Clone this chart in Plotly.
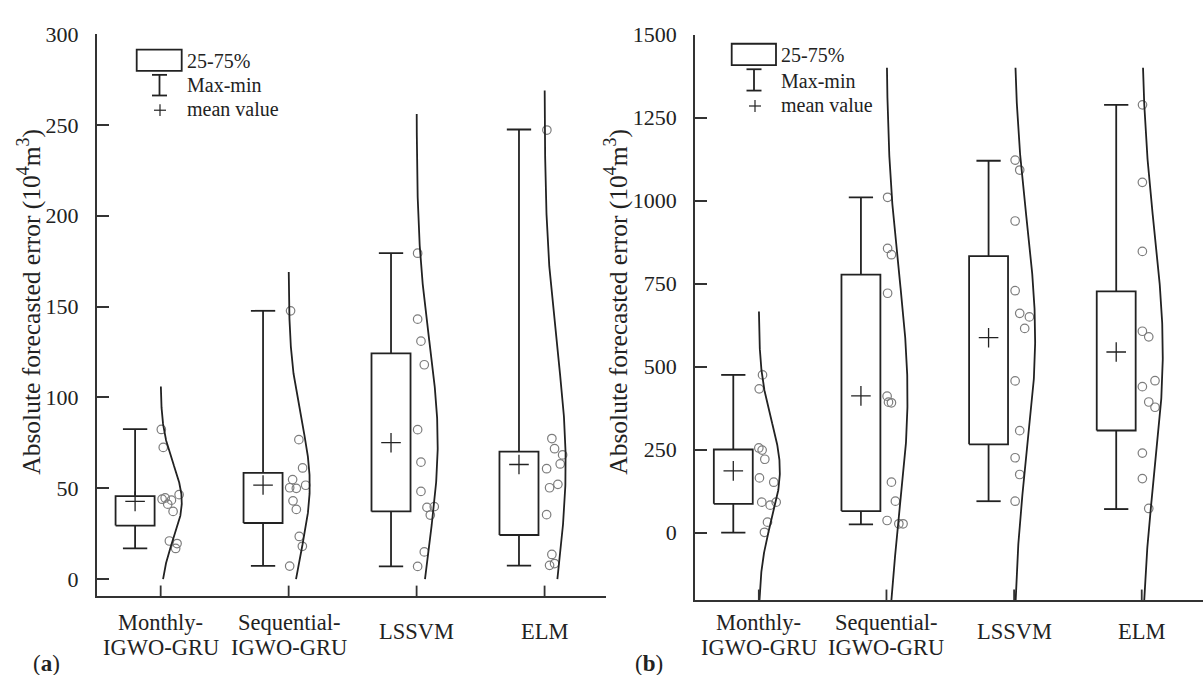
import numpy as np
import plotly.graph_objects as go

W, H = 1203, 675

categories = ["Monthly-<br>IGWO-GRU", "Sequential-<br>IGWO-GRU", "LSSVM", "ELM"]
cat_pos = [1, 2, 3, 4]

# ---------------- panel (a) ----------------
a_points = [
    [82.4, 72.5, 44.7, 44.0, 43.5, 41.3, 46.5, 37.3, 21.0, 19.6, 16.9],
    [147.7, 76.8, 61.2, 54.8, 50.3, 50.0, 51.7, 43.1, 38.4, 23.5, 18.1, 7.2],
    [179.4, 143.1, 131.0, 118.0, 82.3, 64.4, 48.3, 39.5, 39.9, 35.3, 15.0, 7.0],
    [247.2, 77.4, 71.8, 68.4, 63.4, 60.8, 52.2, 50.3, 35.5, 13.6, 8.6, 7.6],
]
a_jitter = [
    [0.005, 0.02, 0.035, 0.011, 0.084, 0.055, 0.144, 0.097, 0.068, 0.128, 0.117],
    [0.015, 0.08, 0.109, 0.031, 0.008, 0.06, 0.133, 0.034, 0.06, 0.083, 0.107, 0.008],
    [0.008, 0.008, 0.034, 0.06, 0.008, 0.034, 0.034, 0.081, 0.138, 0.107, 0.06, 0.008],
    [0.018, 0.057, 0.078, 0.141, 0.122, 0.016, 0.104, 0.039, 0.016, 0.057, 0.078, 0.039],
]
a_q1 = [29.5, 30.9, 37.3, 24.3]
a_q3 = [45.7, 58.5, 124.3, 70.2]
a_min = [17.0, 7.3, 7.0, 7.4]
a_max = [82.6, 147.7, 179.4, 247.5]
a_mean = [42.8, 51.8, 75.1, 63.1]
a_curve_lo = [0, 0, 0, 0]
a_curve_hi = [106, 169, 256, 269]
a_yticks = [0, 50, 100, 150, 200, 250, 300]

# ---------------- panel (b) ----------------
b_points = [
    [475, 433, 255, 248.5, 221, 164.7, 151.8, 91.7, 82.8, 91.7, 31.6, 1],
    [1010, 856, 837, 721, 411, 393, 391, 152, 94.7, 36.5, 26.6, 26.6],
    [1122, 1092, 938.6, 728.6, 660.5, 649.7, 615, 457, 307, 225.5, 175, 94.6],
    [1288.5, 1055, 847, 606.5, 589.6, 457.5, 439.7, 393.4, 377.6, 239.6, 162.7, 72.8],
]
b_jitter = [
    [0.029, 0.003, 0.0, 0.026, 0.047, 0.005, 0.117, 0.023, 0.089, 0.136, 0.068, 0.044],
    [0.009, 0.009, 0.039, 0.009, 0.005, 0.016, 0.039, 0.039, 0.07, 0.005, 0.097, 0.13],
    [0.008, 0.044, 0.008, 0.008, 0.044, 0.12, 0.083, 0.008, 0.044, 0.008, 0.044, 0.008],
    [0.006, 0.005, 0.005, 0.005, 0.055, 0.104, 0.005, 0.055, 0.104, 0.005, 0.005, 0.055],
]
b_q1 = [86.8, 65, 266, 307.6]
b_q3 = [250.4, 777, 833, 726.7]
b_min = [0, 25, 94.6, 71]
b_max = [475, 1010, 1120, 1288.5]
b_mean = [186, 412, 587, 544]
b_curve_lo = [-204, -204, -204, -204]
b_curve_hi = [666, 1400, 1400, 1400]
b_yticks = [0, 250, 500, 750, 1000, 1250, 1500]

FONT = "Liberation Serif"
LINE = "#222222"
PTS = "#7d7d7d"

BOX_OFF = -0.2
BOX_W = 0.305
CAP_W = 0.19
CURVE_W = 0.165

fig = go.Figure()


def add_panel(xa, ya, points, jitter, q1, q3, vmin, vmax, vmean, clo, chi):
    for i, c in enumerate(cat_pos):
        bc = c + BOX_OFF
        hw = BOX_W / 2
        cw = CAP_W / 2
        # box
        fig.add_trace(go.Scatter(
            x=[bc - hw, bc + hw, bc + hw, bc - hw, bc - hw],
            y=[q1[i], q1[i], q3[i], q3[i], q1[i]],
            mode="lines", line=dict(color=LINE, width=1.8),
            xaxis=xa, yaxis=ya, showlegend=False, hoverinfo="skip"))
        # whiskers with caps
        fig.add_trace(go.Scatter(
            x=[bc, bc, None, bc, bc, None, bc - cw, bc + cw, None, bc - cw, bc + cw],
            y=[q3[i], vmax[i], None, q1[i], vmin[i], None, vmax[i], vmax[i], None, vmin[i], vmin[i]],
            mode="lines", line=dict(color=LINE, width=1.8),
            xaxis=xa, yaxis=ya, showlegend=False, hoverinfo="skip"))
        # mean marker
        fig.add_trace(go.Scatter(
            x=[bc], y=[vmean[i]], mode="markers",
            marker=dict(symbol="cross-thin", size=14, line=dict(color=LINE, width=1.3)),
            xaxis=xa, yaxis=ya, showlegend=False))
        # data points
        vals = np.array(points[i], dtype=float)
        fig.add_trace(go.Scatter(
            x=[c + j for j in jitter[i]], y=vals, mode="markers",
            marker=dict(symbol="circle-open", size=8.5, line=dict(color=PTS, width=1.2), color=PTS),
            xaxis=xa, yaxis=ya, showlegend=False))
        # fitted normal curve
        m = vals.mean()
        s = vals.std(ddof=1)
        yy = np.linspace(clo[i], chi[i], 300)
        dens = np.exp(-0.5 * ((yy - m) / s) ** 2)
        fig.add_trace(go.Scatter(
            x=c + CURVE_W * dens, y=yy, mode="lines",
            line=dict(color=LINE, width=1.8),
            xaxis=xa, yaxis=ya, showlegend=False, hoverinfo="skip"))


add_panel("x", "y", a_points, a_jitter, a_q1, a_q3, a_min, a_max, a_mean, a_curve_lo, a_curve_hi)
add_panel("x2", "y2", b_points, b_jitter, b_q1, b_q3, b_min, b_max, b_mean, b_curve_lo, b_curve_hi)


def px(x):
    return x / W


def py(y):
    return 1 - y / H


axis_common = dict(showline=True, linecolor="#333333", linewidth=1.8,
                   tickcolor="#333333", tickwidth=1.8, showgrid=False, zeroline=False)

a_top, a_bot = 22.5, 595
b_top, b_bot = 23, 599

fig.update_layout(
    width=W, height=H, margin=dict(l=0, r=0, t=0, b=0),
    paper_bgcolor="white", plot_bgcolor="white",
    xaxis=dict(domain=[px(96.7), px(606)], range=[0.5, 4.48], ticks="",
               showticklabels=False, anchor="y", **axis_common),
    yaxis=dict(domain=[py(a_bot), py(a_top)], range=[-9.5, 300], tickvals=a_yticks,
               ticks="inside", ticklen=12, anchor="x", ticklabelstandoff=12,
               tickfont=dict(family=FONT, size=22, color="#222"), **axis_common),
    xaxis2=dict(domain=[px(695), 1.0], range=[0.5, 4.48], ticks="",
                showticklabels=False, anchor="y2", **axis_common),
    yaxis2=dict(domain=[py(b_bot), py(b_top)], range=[-204, 1500], tickvals=b_yticks,
                ticks="inside", ticklen=12, anchor="x2", ticklabelstandoff=12,
                tickfont=dict(family=FONT, size=22, color="#222"), **axis_common),
)

ann = []
shapes = []

# inside x-axis ticks at the category positions
for xr, yr, top, bot in [("x", "y domain", a_top, a_bot), ("x2", "y2 domain", b_top, b_bot)]:
    frac = 11.0 / (bot - top)
    for c in cat_pos:
        shapes.append(dict(type="line", xref=xr, yref=yr, x0=c, x1=c, y0=0, y1=frac,
                           line=dict(color="#333333", width=1.8)))

ytitle = "Absolute forecasted error (10<sup>4</sup>m<sup>3</sup>)"
for (xc, letter, xlet) in [(30, "a", 46), (617, "b", 649)]:
    ann.append(dict(text=ytitle, x=px(xc), y=py(295), xref="paper", yref="paper",
                    textangle=-90, showarrow=False, xanchor="center", yanchor="middle",
                    font=dict(family=FONT, size=25.5, color="#222")))
    ann.append(dict(text="(<b>%s</b>)" % letter, x=px(xlet), y=py(663), xref="paper", yref="paper",
                    showarrow=False, xanchor="center", yanchor="middle",
                    font=dict(family=FONT, size=23, color="#222")))

# category labels
for xr in ["x", "x2"]:
    for c, lab in zip(cat_pos, categories):
        parts = lab.split("<br>")
        if len(parts) == 2:
            for part, yy in zip(parts, [622, 647]):
                ann.append(dict(text=part, x=c, y=py(yy), xref=xr, yref="paper",
                                showarrow=False, xanchor="center", yanchor="middle",
                                font=dict(family=FONT, size=22.5, color="#222")))
        else:
            ann.append(dict(text=lab, x=c, y=py(631), xref=xr, yref="paper",
                            showarrow=False, xanchor="center", yanchor="middle",
                            font=dict(family=FONT, size=22.5, color="#222")))

# legends
legend_specs = [
    dict(rx0=136.7, rx1=181.7, ry0=38.3, ry1=60, wx=159.5, wy0=64, wy1=85, mx=160, my=100,
         tx=185, ty=[50, 74, 99]),
    dict(rx0=731.7, rx1=776, ry0=32.3, ry1=54, wx=754, wy0=58.3, wy1=80, mx=755, my=95.7,
         tx=779, ty=[43.5, 70, 95]),
]
leg_texts = ["25-75%", "Max-min", "mean value"]
for L in legend_specs:
    sl = dict(color=LINE, width=1.8)
    shapes.append(dict(type="rect", xref="paper", yref="paper", x0=px(L["rx0"]), x1=px(L["rx1"]),
                       y0=py(L["ry1"]), y1=py(L["ry0"]), line=sl))
    shapes.append(dict(type="line", xref="paper", yref="paper", x0=px(L["wx"]), x1=px(L["wx"]),
                       y0=py(L["wy0"]), y1=py(L["wy1"]), line=sl))
    for yy in [L["wy0"], L["wy1"]]:
        shapes.append(dict(type="line", xref="paper", yref="paper", x0=px(L["wx"] - 7.5),
                           x1=px(L["wx"] + 7.5), y0=py(yy), y1=py(yy), line=sl))
    sm = dict(color=LINE, width=1.2)
    shapes.append(dict(type="line", xref="paper", yref="paper", x0=px(L["mx"] - 6), x1=px(L["mx"] + 6),
                       y0=py(L["my"]), y1=py(L["my"]), line=sm))
    shapes.append(dict(type="line", xref="paper", yref="paper", x0=px(L["mx"]), x1=px(L["mx"]),
                       y0=py(L["my"] - 6), y1=py(L["my"] + 6), line=sm))
    for t, yy in zip(leg_texts, L["ty"]):
        ann.append(dict(text=t, x=px(L["tx"]), y=py(yy), xref="paper", yref="paper",
                        showarrow=False, xanchor="left", yanchor="middle",
                        font=dict(family=FONT, size=20, color="#222")))

fig.update_layout(annotations=ann, shapes=shapes)
fig.write_html("out.html")
